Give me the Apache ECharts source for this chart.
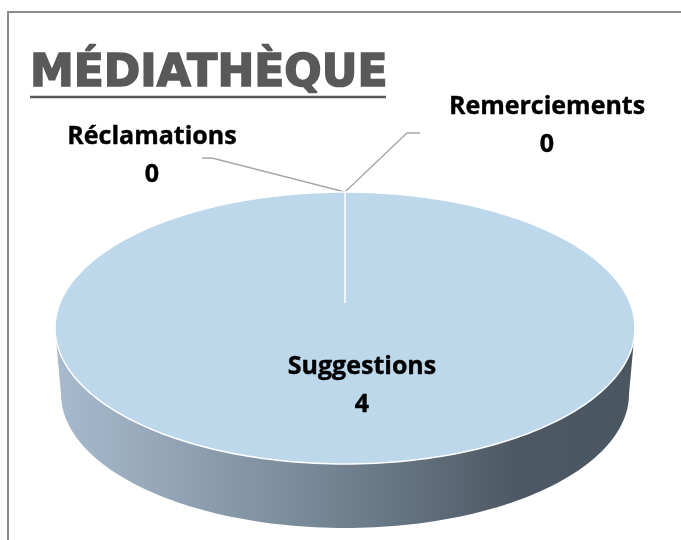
<!DOCTYPE html>
<html>
<head>
<meta charset="utf-8">
<script src="https://cdn.jsdelivr.net/npm/echarts@6/dist/echarts.min.js"></script>
<style>
  html, body { margin: 0; padding: 0; background: #fff; }
  #chart { width: 681px; height: 540px; }
</style>
</head>
<body>
<div id="chart"></div>
<script>
const categories = ['Réclamations', 'Remerciements', 'Suggestions']
const values = [0, 0, 4]
const chartTitle = 'MÉDIATHÈQUE'

// ellipse geometry of the tilted pie (top face, bottom edge of the side)
const pie = { cx: 345, cy: 328, rx: 290, ry: 136, centerLift: 25, depth: 66, rx2: 284, ry2: 134 }
// where each label sits, and the elbow of its leader line
const labelLayout = [
  { x: 152, y: 156, line: [[202, 158], [212, 158]] },
  { x: 547, y: 126, line: [[420, 133], [407, 133]] },
  { x: 362, y: 386, line: null },
]

const total = values.reduce((a, b) => a + b, 0)

function topPoint(t) {
  return [pie.cx + pie.rx * Math.cos(t), pie.cy + pie.ry * Math.sin(t)]
}
function bottomPoint(t) {
  return [pie.cx + pie.rx2 * Math.cos(t), pie.cy + pie.depth + pie.ry2 * Math.sin(t)]
}

function renderItem(params, api) {
  const i = params.dataIndex
  const v = api.value(0)
  let before = 0
  for (let k = 0; k < i; k++) before += values[k]
  const a0 = -Math.PI / 2 + (2 * Math.PI * before) / total
  const a1 = -Math.PI / 2 + (2 * Math.PI * (before + v)) / total
  const children = []

  // front side wall (only the part facing the viewer)
  const s0 = Math.max(a0, 0)
  const s1 = Math.min(a1, Math.PI)
  if (s1 > s0) {
    const pts = []
    const n = 120
    for (let k = 0; k <= n; k++) pts.push(topPoint(s0 + ((s1 - s0) * k) / n))
    for (let k = n; k >= 0; k--) pts.push(bottomPoint(s0 + ((s1 - s0) * k) / n))
    children.push({
      type: 'polygon',
      shape: { points: pts },
      style: {
        fill: new echarts.graphic.LinearGradient(0, 0, 1, 0, [
          { offset: 0, color: '#a8bbce' },
          { offset: 0.5, color: '#718190' },
          { offset: 0.8, color: '#4c5863' },
          { offset: 1, color: '#4a5660' },
        ]),
        stroke: null,
      },
    })
  }

  // top face
  if (a1 > a0) {
    const pts = [[pie.cx, pie.cy - pie.centerLift]]
    const n = 240
    for (let k = 0; k <= n; k++) pts.push(topPoint(a0 + ((a1 - a0) * k) / n))
    children.push({
      type: 'polygon',
      shape: { points: pts },
      style: { fill: '#bdd7eb', stroke: '#ffffff', lineWidth: 1.5 },
    })
  }

  // label and leader line
  const lay = labelLayout[i]
  if (lay.line) {
    const mid = (a0 + a1) / 2
    const p = topPoint(mid)
    children.push({
      type: 'polyline',
      shape: { points: [lay.line[0], lay.line[1], p] },
      style: { stroke: '#a6a6a6', lineWidth: 1.3, fill: null },
    })
  }
  children.push({
    type: 'text',
    style: {
      text: categories[i] + '\n' + v,
      x: lay.x,
      y: lay.y,
      align: 'center',
      verticalAlign: 'middle',
      fontFamily: 'Open Sans',
      fontWeight: 'bold',
      fontSize: 25,
      lineHeight: 38,
      fill: '#000000',
      stroke: '#000000',
      lineWidth: 0.4,
    },
  })

  return { type: 'group', children: children }
}

const chart = echarts.init(document.getElementById('chart'))
const option = {
  backgroundColor: '#ffffff',
  animation: false,
  title: {
    text: chartTitle,
    left: 25,
    top: 48,
    textStyle: {
      fontFamily: 'DejaVu Sans',
      fontWeight: 'bold',
      fontSize: 44,
      color: '#595959',
      textBorderColor: '#595959',
      textBorderWidth: 1.6,
    },
  },
  graphic: [
    {
      type: 'rect',
      shape: { x: 8, y: 12, width: 720, height: 600 },
      style: { fill: null, stroke: '#8c8c8c', lineWidth: 2 },
      silent: true,
    },
    {
      type: 'line',
      shape: { x1: 30, y1: 97, x2: 386, y2: 97 },
      style: { stroke: '#595959', lineWidth: 2.5 },
      silent: true,
    },
  ],
  series: [
    {
      type: 'custom',
      coordinateSystem: 'none',
      renderItem: renderItem,
      data: values.map((v, i) => [v, i]),
    },
  ],
}
chart.setOption(option)
</script>
</body>
</html>
